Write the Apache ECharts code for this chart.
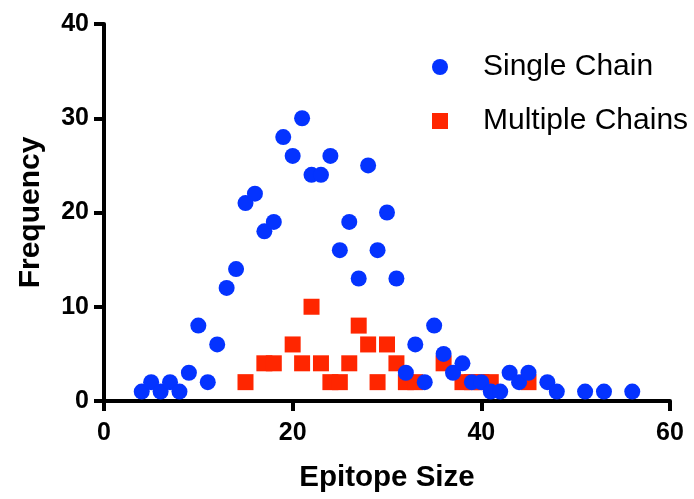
<!DOCTYPE html>
<html>
<head>
<meta charset="utf-8">
<script src="https://cdn.jsdelivr.net/npm/echarts@6/dist/echarts.min.js"></script>
<style>
  html, body { margin: 0; padding: 0; background: #fff; }
  #chart { width: 694px; height: 499px; }
</style>
</head>
<body>
<div id="chart"></div>
<script>
// epitope size vs frequency
const singleX = [4, 5, 6, 7, 8, 9, 10, 11, 12, 13, 14, 15, 16, 17, 18, 19, 20, 21, 22, 23, 24, 25, 26, 27, 28, 29, 30, 31, 32, 33, 34, 35, 36, 37, 38, 39, 40, 41, 42, 43, 44, 45, 47, 48, 51, 53, 56]
const singleY = [1, 2, 1, 2, 1, 3, 8, 2, 6, 12, 14, 21, 22, 18, 19, 28, 26, 30, 24, 24, 26, 16, 19, 13, 25, 16, 20, 13, 3, 6, 2, 8, 5, 3, 4, 2, 2, 1, 1, 3, 2, 3, 2, 1, 1, 1, 1]

const multiX = [15, 17, 18, 20, 21, 22, 23, 24, 25, 26, 27, 28, 29, 30, 31, 32, 33, 36, 38, 39, 40, 41, 45]
const multiY = [2, 4, 4, 6, 4, 10, 4, 2, 2, 4, 8, 6, 2, 6, 4, 2, 2, 4, 2, 2, 2, 2, 2]

const xTicks = [0, 20, 40, 60]
const yTicks = [0, 10, 20, 30, 40]

const BLUE = '#0433ff'
const RED = '#ff2600'
const FONT = '"Liberation Sans", Arial, Helvetica, sans-serif'

const pairs = (xs, ys) => xs.map((x, i) => [x, ys[i]])

const chart = echarts.init(document.getElementById('chart'))

chart.setOption({
  animation: false,
  grid: { left: 104, right: 24, top: 24, bottom: 98, containLabel: false },
  legend: {
    orient: 'vertical',
    left: 432,
    top: 52,
    padding: 0,
    itemWidth: 16,
    itemHeight: 16,
    itemGap: 24,
    data: ['Single Chain', 'Multiple Chains'],
    textStyle: { fontSize: 30, color: '#000', fontFamily: FONT, padding: [0, 0, 0, 30] },
  },
  xAxis: {
    type: 'value',
    min: xTicks[0],
    max: xTicks[xTicks.length - 1],
    interval: 20,
    name: 'Epitope Size',
    nameLocation: 'middle',
    nameGap: 62,
    nameTextStyle: { fontSize: 29.5, fontWeight: 'bold', color: '#000', fontFamily: FONT },
    axisLine: { lineStyle: { color: '#000', width: 4 } },
    axisTick: { length: 10, lineStyle: { color: '#000', width: 4 } },
    axisLabel: { fontSize: 25, fontWeight: 'bold', color: '#000', fontFamily: FONT, margin: 20 },
    splitLine: { show: false },
  },
  yAxis: {
    type: 'value',
    min: yTicks[0],
    max: yTicks[yTicks.length - 1],
    interval: 10,
    name: 'Frequency',
    nameLocation: 'middle',
    nameGap: 58,
    nameTextStyle: { fontSize: 30, fontWeight: 'bold', color: '#000', fontFamily: FONT },
    axisLine: { show: true, lineStyle: { color: '#000', width: 4 } },
    axisTick: { show: true, length: 10, lineStyle: { color: '#000', width: 4 } },
    axisLabel: { fontSize: 25, fontWeight: 'bold', color: '#000', fontFamily: FONT, margin: 15 },
    splitLine: { show: false },
  },
  series: [
    {
      name: 'Multiple Chains',
      type: 'scatter',
      symbol: 'rect',
      symbolSize: 16,
      itemStyle: { color: RED, opacity: 1 },
      data: pairs(multiX, multiY),
    },
    {
      name: 'Single Chain',
      type: 'scatter',
      symbol: 'circle',
      symbolSize: 16,
      itemStyle: { color: BLUE, opacity: 1 },
      data: pairs(singleX, singleY),
    },
  ],
})
</script>
</body>
</html>
